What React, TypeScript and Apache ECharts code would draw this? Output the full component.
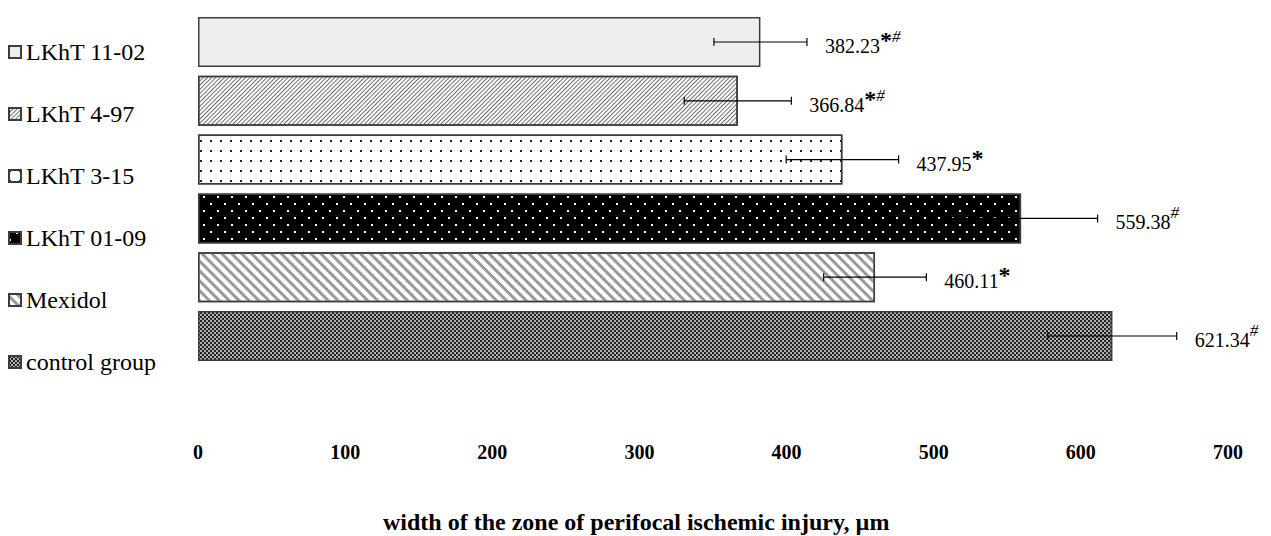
import React, { useEffect, useRef } from "react";
import * as echarts from "echarts";

const categories = ["LKhT 11-02", "LKhT 4-97", "LKhT 3-15", "LKhT 01-09", "Mexidol", "control group"];
const means = [382.23, 366.84, 437.95, 559.38, 460.11, 621.34];
const errors = [31.6, 36.4, 38.2, 52.0, 34.9, 43.8];
const marks = ["*#", "*#", "*", "#", "*", "#"];
const axisMin = 0;
const axisMax = 700;
const axisStep = 100;
const axisTitle = "width of the zone of perifocal ischemic injury, µm";

const FONT = "'Liberation Serif', 'Times New Roman', serif";
const BORDER = "#3c3c3c";

const barStyles: any[] = [
  { color: "#eeeeee" },
  {
    color: "#ffffff",
    decal: { symbol: "rect", color: "#6f6f6f", dashArrayX: [1, 0], dashArrayY: [1, 2], rotation: -Math.PI / 4 },
  },
  {
    color: "#ffffff",
    decal: { symbol: "rect", color: "#222222", dashArrayX: [[2, 8]], dashArrayY: [2, 8] },
  },
  {
    color: "#000000",
    decal: { symbol: "rect", color: "#ffffff", dashArrayX: [[2, 12], [0, 7, 2, 5]], dashArrayY: [2, 5] },
  },
  {
    color: "#ffffff",
    decal: { symbol: "rect", color: "#9a9a9a", dashArrayX: [1, 0], dashArrayY: [3, 4], rotation: Math.PI / 4 },
  },
  {
    color: "#222222",
    decal: { symbol: "rect", color: "#b0b0b0", dashArrayX: [[2, 2], [0, 2, 2, 0]], dashArrayY: [2, 0] },
  },
];

function labelText(i: number): string {
  let s = `{v|${means[i].toFixed(2)}}`;
  if (marks[i].includes("*")) s += "{a|*}";
  if (marks[i].includes("#")) s += "{h|#}";
  return s;
}

export default function App() {
  const ref = useRef<HTMLDivElement>(null);
  useEffect(() => {
    if (!ref.current) return;
    const chart = echarts.init(ref.current, undefined, { renderer: "svg" });

    const barSeries = categories.map((name, i) => ({
      name,
      type: "bar",
      stack: "all",
      silent: true,
      barCategoryGap: "15%",
      data: categories.map((_, j) => (j === i ? means[i] : null)),
      itemStyle: { ...barStyles[i], borderColor: BORDER, borderWidth: 1.5 },
      emphasis: { disabled: true },
    }));

    const errSeries = {
      type: "custom",
      silent: true,
      z: 10,
      data: means.map((m, i) => [i, m - errors[i], m + errors[i]]),
      encode: { x: [1, 2], y: 0 },
      renderItem: (params: any, api: any) => {
        const idx = api.value(0);
        const lo = api.coord([api.value(1), idx]);
        const hi = api.coord([api.value(2), idx]);
        const y = lo[1];
        const cap = 4;
        const ls = { stroke: "#000", lineWidth: 1.2 };
        return {
          type: "group",
          children: [
            { type: "line", shape: { x1: lo[0], y1: y, x2: hi[0], y2: y }, style: ls },
            { type: "line", shape: { x1: lo[0], y1: y - cap, x2: lo[0], y2: y + cap }, style: ls },
            { type: "line", shape: { x1: hi[0], y1: y - cap, x2: hi[0], y2: y + cap }, style: ls },
            {
              type: "text",
              x: hi[0] + 18,
              y: y,
              style: {
                text: labelText(params.dataIndex),
                align: "left",
                verticalAlign: "middle",
                fill: "#000",
                fontFamily: FONT,
                fontSize: 20,
                rich: {
                  v: { fontFamily: FONT, fontSize: 20, fill: "#000", lineHeight: 28, verticalAlign: "bottom" },
                  a: { fontFamily: FONT, fontSize: 24, fontWeight: "bold", fill: "#000", lineHeight: 24, verticalAlign: "top" },
                  h: { fontFamily: FONT, fontSize: 17, fontStyle: "italic", fill: "#000", lineHeight: 17, verticalAlign: "top" },
                },
              },
            },
          ],
        };
      },
    };

    chart.setOption({
      animation: false,
      backgroundColor: "#ffffff",
      grid: { left: 198, right: 43, top: 12.6, bottom: 170.6, containLabel: false },
      legend: {
        orient: "vertical",
        left: 8,
        top: 40,
        padding: 0,
        itemWidth: 12,
        itemHeight: 12,
        itemGap: 38,
        icon: "rect",
        selectedMode: false,
        data: categories,
        textStyle: { fontFamily: FONT, fontSize: 24, lineHeight: 24, color: "#000" },
      },
      title: {
        text: axisTitle,
        left: 383,
        top: 510,
        padding: 0,
        textStyle: { fontFamily: FONT, fontSize: 24, fontWeight: "bold", color: "#000", lineHeight: 24 },
      },
      xAxis: {
        type: "value",
        min: axisMin,
        max: axisMax,
        interval: axisStep,
        axisLine: { show: false },
        axisTick: { show: false },
        splitLine: { show: false },
        axisLabel: { fontFamily: FONT, fontSize: 20, fontWeight: "bold", color: "#000", margin: 77 },
      },
      yAxis: {
        type: "category",
        data: categories,
        inverse: true,
        axisLine: { show: false },
        axisTick: { show: false },
        axisLabel: { show: false },
        splitLine: { show: false },
      },
      series: [...barSeries, errSeries],
    });
    return () => chart.dispose();
  }, []);
  return <div ref={ref} style={{ position: "absolute", left: 0, top: 0, width: 1271, height: 536 }} />;
}
